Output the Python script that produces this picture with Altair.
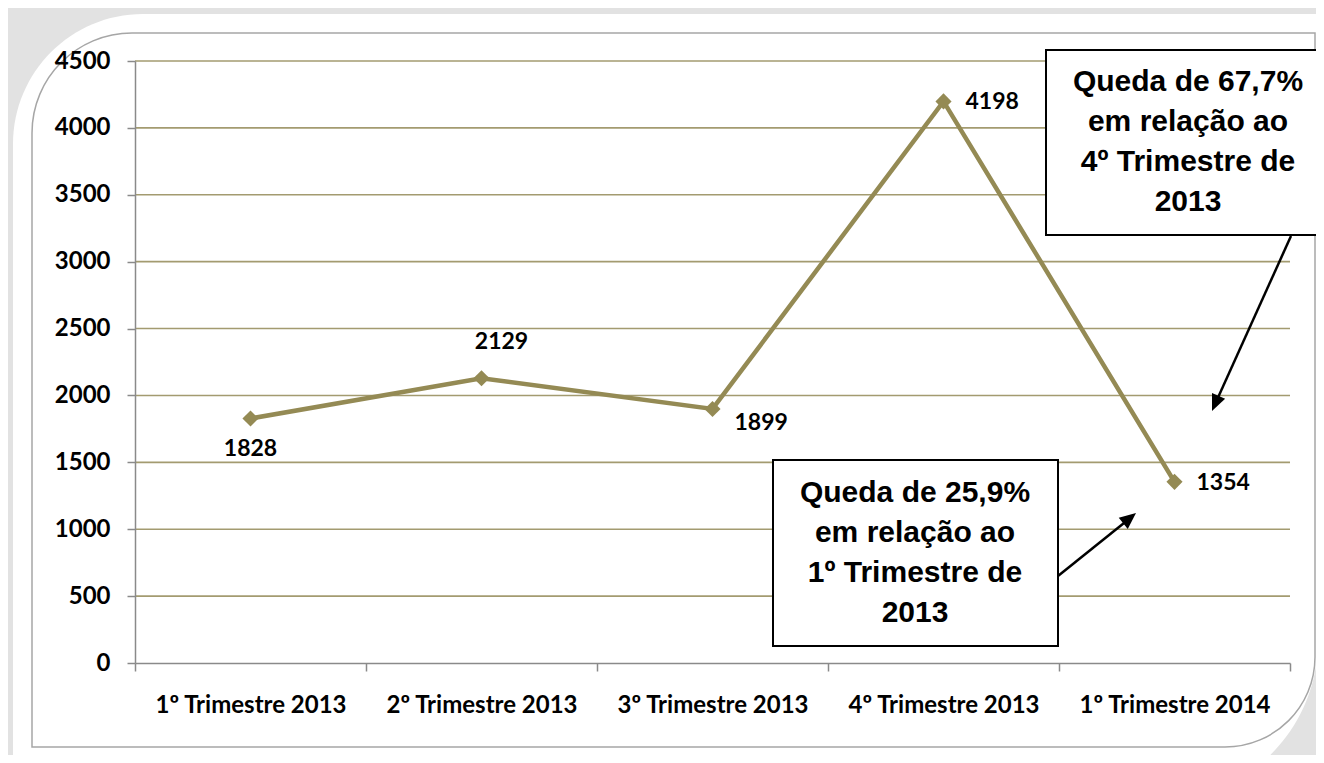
import altair as alt
import pandas as pd

# ---- data ----
categories = ["1º Trimestre 2013", "2º Trimestre 2013", "3º Trimestre 2013",
              "4º Trimestre 2013", "1º Trimestre 2014"]
values = [1828, 2129, 1899, 4198, 1354]
y_ticks = [0, 500, 1000, 1500, 2000, 2500, 3000, 3500, 4000, 4500]
note_top = "Queda de 67,7%\nem relação ao\n4º Trimestre de\n2013"
note_bottom = "Queda de 25,9%\nem relação ao\n1º Trimestre de\n2013"

df = pd.DataFrame({"cat": categories, "val": values})
grid_df = pd.DataFrame({"val": y_ticks[1:]})
one = alt.Data(values=[{"k": 0}])

W, H = 1155, 602
LINE = "#948A54"
GRID = "#A39B70"
FONT = "Lato"

y_scale = alt.Scale(domain=[0, 4500], nice=False)
x_axis = alt.Axis(title=None, labelAngle=0, tickBand="extent", tickSize=8,
                  labelPadding=22, labelFont=FONT, labelFontSize=24, labelLimit=0,
                  labelFontWeight="bold", labelColor="#000000",
                  domainColor="#8a8a8a", tickColor="#8a8a8a",
                  domainWidth=1.5, tickWidth=1.5, grid=False, zindex=1)
y_axis = alt.Axis(title=None, values=y_ticks, format="d", tickSize=8, labelPadding=17,
                  labelFont=FONT, labelFontSize=24, labelFontWeight="bold",
                  labelColor="#000000", domainColor="#8a8a8a",
                  tickColor="#8a8a8a", domainWidth=1.5, tickWidth=1.5,
                  grid=False, zindex=1)
x_enc = alt.X("cat:N", sort=categories, bandPosition=0.5,
              scale=alt.Scale(type="band", paddingInner=0, paddingOuter=0),
              axis=x_axis)
y_enc = alt.Y("val:Q", scale=y_scale, axis=y_axis)

# decorations: card and frame
card = alt.Chart(one).mark_rect(fill="#ffffff", cornerRadiusTopLeft=130,
                                cornerRadiusBottomRight=160).encode(
    x=alt.value(-122), x2=alt.value(1183), y=alt.value(-47), y2=alt.value(740))
frame = alt.Chart(one).mark_rect(fillOpacity=0, stroke="#a6a6a6", strokeWidth=1.5,
                                 cornerRadiusTopLeft=100, cornerRadiusBottomRight=90).encode(
    x=alt.value(-103), x2=alt.value(1180), y=alt.value(-28), y2=alt.value(686))

grid = alt.Chart(grid_df).mark_rule(color=GRID, strokeWidth=1.6).encode(
    x=alt.value(0), x2=alt.value(W), y=y_enc)

base = alt.Chart(df)
line = base.mark_line(color=LINE, strokeWidth=4.5).encode(x=x_enc, y=y_enc)
pts = base.mark_point(shape="diamond", filled=True, color=LINE, size=260, opacity=1).encode(
    x=alt.X("cat:N", sort=categories, bandPosition=0.5), y="val:Q")

def lab(cats, **kw):
    return base.transform_filter(alt.FieldOneOfPredicate(field="cat", oneOf=cats)).mark_text(
        font=FONT, fontSize=23, fontWeight="bold", color="#000000", **kw).encode(
        x=alt.X("cat:N", sort=categories, bandPosition=0.5), y="val:Q", text="val:Q")

lab_below = lab([categories[0]], align="center", baseline="middle", dy=31)
lab_above = lab([categories[1]], align="center", baseline="middle", dx=20, dy=-36)
lab_rlow = lab([categories[2]], align="left", baseline="middle", dx=22, dy=14)
lab_right = lab([categories[3], categories[4]], align="left", baseline="middle", dx=22, dy=1)

# annotation boxes
box_b = alt.Chart(one).mark_rect(fill="#ffffff", stroke="#000000", strokeWidth=2).encode(
    x=alt.value(638), x2=alt.value(923), y=alt.value(399), y2=alt.value(585))
txt_b = alt.Chart(one).mark_text(font="Liberation Sans", fontSize=30, fontWeight="bold",
                                 color="#000000", align="center", baseline="middle",
                                 lineBreak="\n", lineHeight=40).encode(
    x=alt.value(780), y=alt.value(432), text=alt.value(note_bottom))
box_t = alt.Chart(one).mark_rect(fill="#ffffff", stroke="#000000", strokeWidth=2).encode(
    x=alt.value(911), x2=alt.value(1200), y=alt.value(-11), y2=alt.value(174))
txt_t = alt.Chart(one).mark_text(font="Liberation Sans", fontSize=30, fontWeight="bold",
                                 color="#000000", align="center", baseline="middle",
                                 lineBreak="\n", lineHeight=40).encode(
    x=alt.value(1053), y=alt.value(21), text=alt.value(note_top))

arrow_path = "M0,0L0.7,1.6L-0.7,1.6Z"
arr1 = alt.Chart(one).mark_rule(color="#000000", strokeWidth=2.5).encode(
    x=alt.value(1156), y=alt.value(175), x2=alt.value(1081), y2=alt.value(341))
head1 = alt.Chart(one).mark_point(shape=arrow_path, filled=True, color="#000000",
                                  size=420, angle=203.6, opacity=1).encode(
    x=alt.value(1077), y=alt.value(350))
arr2 = alt.Chart(one).mark_rule(color="#000000", strokeWidth=2.5).encode(
    x=alt.value(923), y=alt.value(515), x2=alt.value(994), y2=alt.value(458))
head2 = alt.Chart(one).mark_point(shape=arrow_path, filled=True, color="#000000",
                                  size=420, angle=51, opacity=1).encode(
    x=alt.value(1001), y=alt.value(452))

chart = alt.layer(
    card, frame, grid, line, pts, lab_below, lab_above, lab_rlow, lab_right,
    arr1, head1, arr2, head2, box_b, txt_b, box_t, txt_t
).properties(
    width=W, height=H,
    autosize=alt.AutoSizeParams(type="none"),
    padding={"left": 127, "top": 53, "right": 26, "bottom": 92},
    background="#e2e2e2",
).configure_view(stroke=None)

chart.save("out.html", embed_options={"renderer": "svg", "actions": False})
